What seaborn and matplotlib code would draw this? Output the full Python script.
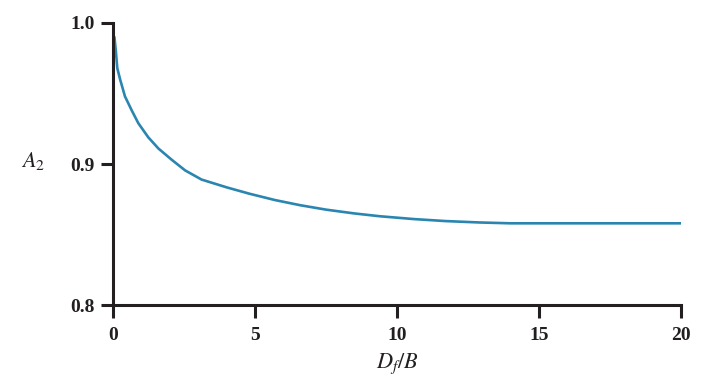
import matplotlib
matplotlib.use("Agg")
import matplotlib.pyplot as plt
import seaborn as sns
import pandas as pd

# Data
df_over_b = [0.05, 0.1, 0.15, 0.25, 0.42, 0.66, 0.89, 1.24, 1.6, 2.07, 2.54, 3.12, 3.6, 4.0, 4.8,
             5.7, 6.6, 7.5, 8.5, 9.4, 10.6, 11.7, 12.9, 14.0, 15.0, 16.0, 17.0, 18.0, 19.0, 20.0]
a2 = [0.990, 0.980, 0.968, 0.960, 0.948, 0.938, 0.929, 0.919, 0.911, 0.903, 0.8955, 0.889,
      0.886, 0.8835, 0.879, 0.8745, 0.8708, 0.8677, 0.865, 0.863, 0.861, 0.8596, 0.8586,
      0.858, 0.858, 0.858, 0.858, 0.858, 0.858, 0.858]
x_ticks = [0, 5, 10, 15, 20]
y_ticks = [0.8, 0.9, 1.0]
y_tick_labels = ["0.8", "0.9", "1.0"]

data = pd.DataFrame({"x": df_over_b, "A2": a2})

sns.set_style("ticks")
plt.rcParams["font.family"] = ["Liberation Serif", "DejaVu Serif"]
plt.rcParams["mathtext.fontset"] = "stix"

fig = plt.figure(figsize=(7.02, 3.8), dpi=100)
ax = fig.add_axes([0.161, 0.197, 0.809, 0.7425])

sns.lineplot(data=data, x="x", y="A2", ax=ax, color="#2a86b0", linewidth=1.9)

ax.set_xlim(0, 20)
ax.set_ylim(0.8, 1.0)
ax.set_xticks(x_ticks)
ax.set_xticklabels([str(t) for t in x_ticks])
ax.set_yticks(y_ticks)
ax.set_yticklabels(y_tick_labels)

dark = "#231f20"
for s in ["left", "bottom"]:
    ax.spines[s].set_linewidth(2.2)
    ax.spines[s].set_color(dark)
sns.despine(ax=ax)
ax.tick_params(axis="both", direction="out", length=9, width=2.2, color=dark,
               labelsize=14, labelcolor=dark)
ax.tick_params(axis="y", pad=4)
ax.tick_params(axis="x", pad=7)
for lab in ax.get_xticklabels() + ax.get_yticklabels():
    lab.set_fontweight("bold")

ax.set_xlabel(r"$D_f/B$", fontsize=16, color=dark)
ax.xaxis.set_label_coords(0.5, -0.165)
ax.set_ylabel(r"$A_2$", fontsize=16, rotation=0, color=dark, va="center", ha="center")
ax.yaxis.set_label_coords(-0.14, 0.51)

fig.savefig("out.png", dpi=100)
